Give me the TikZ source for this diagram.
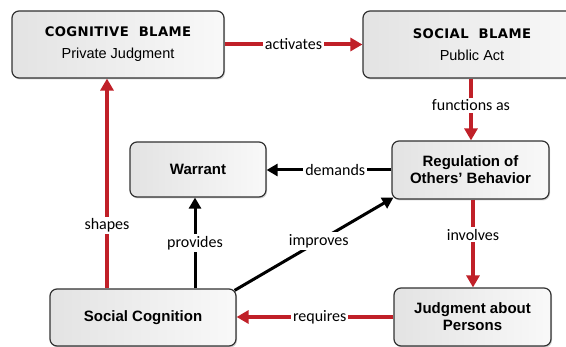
\documentclass[tikz,border=0pt]{standalone}
\usepackage{fontspec}
\setmainfont{Liberation Sans}
\newfontfamily\lblfont{Carlito}
\newfontfamily\headfont[LetterSpace=3]{DejaVu Sans}
\usetikzlibrary{arrows.meta,shadows}
\definecolor{blamered}{RGB}{192,32,40}
\definecolor{boxedge}{RGB}{50,50,50}

\tikzset{
  box/.style={draw=boxedge, line width=1.2pt, rounded corners=7pt,
    left color=gray!22, right color=gray!5,
    drop shadow={shadow xshift=1pt, shadow yshift=-1.5pt, opacity=0.35},
    align=center, inner sep=0pt,
    font=\fontsize{15}{17}\selectfont\bfseries},
  headbox/.style={box, font=\fontsize{14.5}{22}\selectfont\mdseries},
  redlink/.style={draw=blamered, line width=4pt, -{Triangle[length=12pt,width=13pt]}},
  blacklink/.style={draw=black, line width=3pt, -{Triangle[length=11pt,width=12pt]}},
  lbl/.style={fill=white, inner sep=2pt, text=black,
    font=\fontsize{16}{18}\selectfont\lblfont},
}
\newcommand{\headline}[1]{{\headfont\bfseries\fontsize{13.2}{14}\selectfont #1}}

\begin{document}
\begin{tikzpicture}[x=1pt, y=-1pt]
  \useasboundingbox (0,0) rectangle (566,347);
  \clip (0,0) rectangle (566,347);

  % boxes
  \node[headbox, minimum width=212pt, minimum height=67pt] (cb) at (118,44.5)
    {\headline{COGNITIVE\ \ BLAME}\\Private Judgment};
  \node[headbox, minimum width=218pt, minimum height=67pt] (sb) at (472,44.5)
    {\headline{SOCIAL\ \ BLAME}\\Public Act};
  \node[box, minimum width=136pt, minimum height=55pt] (war) at (198,169.5) {Warrant};
  \node[box, minimum width=157pt, minimum height=58pt] (reg) at (470.5,170)
    {Regulation of\\Others’ Behavior};
  \node[box, minimum width=186pt, minimum height=57pt] (sc) at (143,317.5) {Social Cognition};
  \node[box, minimum width=157pt, minimum height=58pt] (jap) at (472.5,317)
    {Judgment about\\Persons};

  % columns used by vertical connectors
  \coordinate (fx) at (471,0);
  \coordinate (ix) at (473,0);
  \coordinate (sx) at (107,0);
  \coordinate (px) at (195,0);

  % connectors
  \draw[redlink] (cb) -- node[lbl]{activates} (sb);
  \draw[redlink] (sb.south -| fx) -- node[lbl, pos=0.43]{functions as} (reg.north -| fx);
  \draw[blacklink] (reg.west) -- node[lbl, pos=0.45]{demands} (reg.west -| war.east);
  \draw[redlink] (reg.south -| ix) -- node[lbl, pos=0.40]{involves} (jap.north -| ix);
  \draw[redlink] (jap.west) -- node[lbl, pos=0.47]{requires} (jap.west -| sc.east);
  \draw[redlink] (sc.north -| sx) -- node[lbl, pos=0.3]{shapes} (cb.south -| sx);
  \draw[blacklink] (sc.north -| px) -- node[lbl, pos=0.5]{provides} (war.south -| px);
  \draw[blacklink] ([shift={(-2,2)}]sc.north east) -- node[lbl, pos=0.53]{improves}
    ([shift={(2,-2)}]reg.south west);
\end{tikzpicture}
\end{document}
